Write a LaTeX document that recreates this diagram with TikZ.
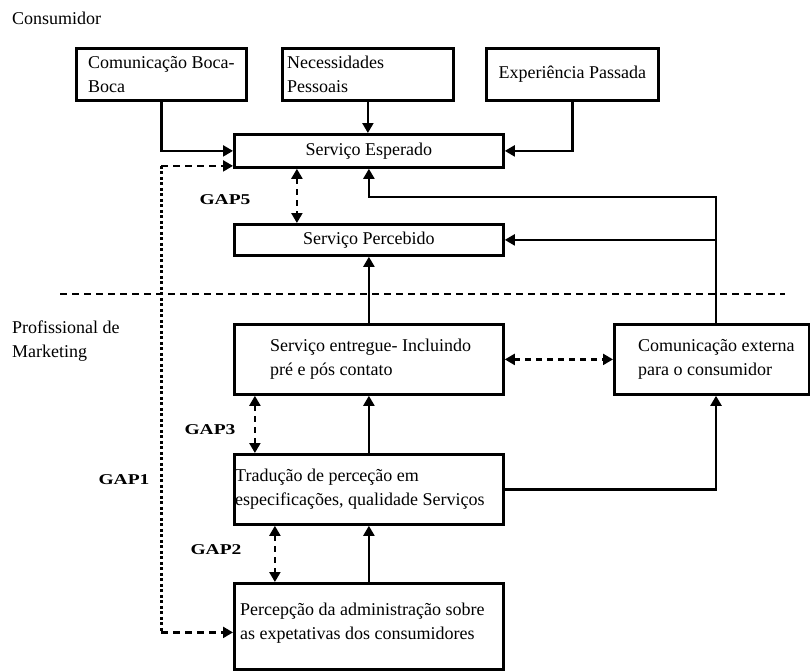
\documentclass[tikz,border=0pt]{standalone}
\usepackage{fontspec}
\setmainfont{Liberation Serif}
\newfontfamily\gapfont[FakeStretch=1.3]{Liberation Serif}
\usetikzlibrary{arrows.meta}

\begin{document}
\begin{tikzpicture}
[x=1pt,y=-1pt,
caixa/.style={
	draw,
	line width=2.8pt,
	inner sep=0pt,
	anchor=north west,
	font=\fontsize{18}{23.5}\selectfont,
    },
texto/.style={font=\fontsize{18}{23.5}\selectfont, align=left, inner sep=0pt, anchor=west},
gap/.style={font=\gapfont\bfseries\fontsize{15}{18}\selectfont, inner sep=0pt},
seta/.style={line width=2.2pt, -{Triangle[length=10pt,width=11pt]}},
gapseta/.style={line width=2.2pt, dash pattern=on 6pt off 5pt,
	{Triangle[length=10pt,width=11pt]}-{Triangle[length=10pt,width=11pt]}},
tracejado/.style={line width=2.2pt, dash pattern=on 7pt off 5pt},
pontilhado/.style={line width=3pt, dash pattern=on 3pt off 2.5pt},
]
\useasboundingbox (0,0) rectangle (810,670);

% consumidor
\node[texto] (consumidor) at (12,18) {Consumidor};
\node[caixa, minimum width=170pt, minimum height=52pt] (boca) at (75,47) {};
\node[texto] (tboca) at ([xshift=13pt]boca.west) {Comunicação Boca-\\Boca};
\node[caixa, minimum width=171pt, minimum height=52pt] (necess) at (281,47) {};
\node[texto] (tnecess) at ([xshift=6pt]necess.west) {Necessidades\\Pessoais};
\node[caixa, minimum width=172pt, minimum height=52pt] (exper) at (485,47) {Experiência Passada};
\node[caixa, minimum width=269pt, minimum height=33pt] (esperado) at (233,133) {Serviço Esperado};
\node[caixa, minimum width=269pt, minimum height=31pt] (percebido) at (233,223) {Serviço Percebido};

% profissional de marketing
\node[texto] (profissional) at (12,341) {Profissional de\\Marketing};
\node[caixa, minimum width=269pt, minimum height=70pt] (entregue) at (233,323) {};
\node[texto] (tentregue) at ([xshift=37pt]entregue.west) {Serviço entregue- Incluindo\\pré e pós contato};
\node[caixa, minimum width=195pt, minimum height=70pt] (externa) at (613,323) {};
\node[texto] (texterna) at ([xshift=25pt]externa.west) {Comunicação externa\\para o consumidor};
\node[caixa, minimum width=269pt, minimum height=70pt] (traducao) at (233,453) {};
\node[texto] (ttraducao) at ([xshift=2pt]traducao.west) {Tradução de perceção em\\especificações, qualidade Serviços};
\node[caixa, minimum width=269pt, minimum height=86pt] (percepcao) at (233,582) {};
\node[texto] (tpercepcao) at ([xshift=7pt,yshift=3pt]percepcao.west) {Percepção da administração sobre\\as expetativas dos consumidores};

% gaps
\node[gap] (gapcinco) at (225,200) {GAP5};
\node[gap] (gaptres) at (210,430) {GAP3};
\node[gap] (gapdois) at (216,550) {GAP2};
\node[gap] (gapum) at (124,480) {GAP1};

%draw lines
\draw[tracejado] (60,294) -- (785,294);
\coordinate (canto) at (716,197);
\draw[seta] (boca.south) |- (esperado.west);
\draw[seta] (necess.south) -- (necess.south |- esperado.north);
\draw[seta] (exper.south) |- (esperado.east);
\draw[seta] (externa.north -| canto) -- (canto) -| (esperado.south);
\draw[seta] (externa.north -| canto) |- (percebido.east);
\draw[seta] (entregue.north) -- (percebido.south);
\draw[seta] (traducao.north) -- (entregue.south);
\draw[seta] (traducao.east) -| (externa.south -| canto);
\draw[seta] (percepcao.north) -- (traducao.south);
\draw[gapseta] (entregue.east) -- (externa.west);
\draw[gapseta] ([xshift=-72pt]esperado.south) -- ([xshift=-72pt]percebido.north);
\draw[gapseta] ([xshift=-114pt]entregue.south) -- ([xshift=-114pt]traducao.north);
\draw[gapseta] ([xshift=-94pt]traducao.south) -- ([xshift=-94pt]percepcao.north);

% gap1
\coordinate (gapa) at ([yshift=-15pt]esperado.west -| boca.south);
\coordinate (gapb) at ([yshift=-6pt]percepcao.west -| boca.south);
\draw[pontilhado] (gapa) -- (gapb);
\draw[tracejado, -{Triangle[length=10pt,width=11pt]}] (gapa) -- ([yshift=-15pt]esperado.west);
\draw[tracejado, -{Triangle[length=10pt,width=11pt]}] (gapb) -- ([yshift=-6pt]percepcao.west);
\end{tikzpicture}
\end{document}
